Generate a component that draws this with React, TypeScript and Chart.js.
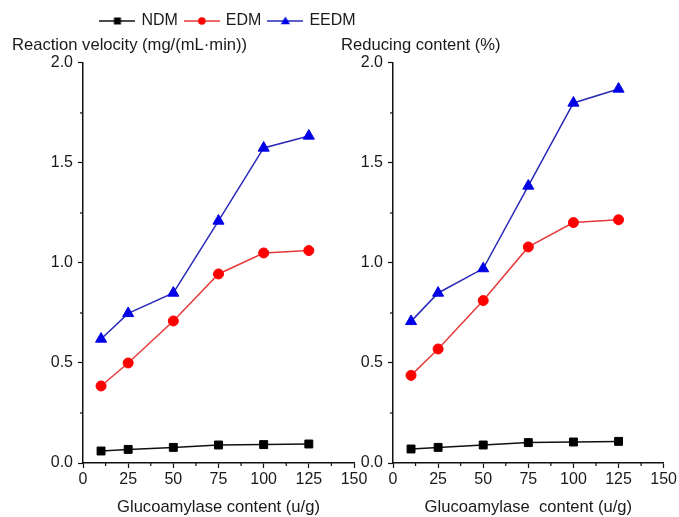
import React, { useEffect, useRef } from "react";
import { Chart, registerables } from "chart.js";

Chart.register(...registerables);

// ---- data ----
const glucoamylase = [10, 25, 50, 75, 100, 125];
const velocityNDM = [0.06, 0.068, 0.078, 0.09, 0.092, 0.095];
const velocityEDM = [0.385, 0.5, 0.71, 0.945, 1.05, 1.062];
const velocityEEDM = [0.62, 0.748, 0.85, 1.21, 1.575, 1.635];
const reducingNDM = [0.07, 0.078, 0.09, 0.102, 0.105, 0.108];
const reducingEDM = [0.438, 0.57, 0.812, 1.08, 1.202, 1.216];
const reducingEEDM = [0.708, 0.85, 0.972, 1.385, 1.8, 1.87];
const seriesNames = ["NDM", "EDM", "EEDM"];
const xMinorTicks = [12.5, 37.5, 62.5, 87.5, 112.5, 137.5];
const yMinorTicks = [0.25, 0.75, 1.25, 1.75];

const COLORS = {
  NDM: { line: "#111111", point: "#000000", style: "rect", radius: 5.6 },
  EDM: { line: "#e83a3a", point: "#ff0000", style: "circle", radius: 5 },
  EEDM: { line: "#2a2ab8", point: "#0000e6", style: "triangle", radius: 6.4 },
};
const FONT = "'Liberation Sans', Arial, Helvetica, sans-serif";
const TEXT = "#1a1a1a";

const minorTicksPlugin = {
  id: "minorTicks",
  afterDraw(chart: any) {
    const { ctx } = chart;
    const x = chart.scales.x;
    const y = chart.scales.y;
    ctx.save();
    ctx.strokeStyle = "#111";
    ctx.lineWidth = 1.2;
    xMinorTicks.forEach((v) => {
      const px = x.getPixelForValue(v);
      ctx.beginPath();
      ctx.moveTo(px, y.bottom);
      ctx.lineTo(px, y.bottom + 3);
      ctx.stroke();
    });
    yMinorTicks.forEach((v) => {
      const py = y.getPixelForValue(v);
      ctx.beginPath();
      ctx.moveTo(x.left, py);
      ctx.lineTo(x.left - 3, py);
      ctx.stroke();
    });
    ctx.restore();
  },
};

function makeDataset(name: string, values: number[]) {
  const c = (COLORS as any)[name];
  return {
    label: name,
    data: glucoamylase.map((x, i) => ({ x, y: values[i] })),
    showLine: true,
    borderColor: c.line,
    borderWidth: 1.5,
    backgroundColor: c.point,
    pointBackgroundColor: c.point,
    pointBorderColor: c.point,
    pointBorderWidth: 1,
    pointStyle: c.style,
    pointRadius: c.radius,
    tension: 0,
  };
}

function panelConfig(
  title: string,
  xTitle: string,
  values: number[][],
  padLeft: number,
  padRight: number,
  yWidth: number
): any {
  return {
    type: "scatter",
    data: {
      datasets: seriesNames.map((n, i) => makeDataset(n, values[i])),
    },
    plugins: [minorTicksPlugin],
    options: {
      animation: false,
      responsive: false,
      devicePixelRatio: 1,
      layout: { padding: { left: padLeft, right: padRight, top: 0, bottom: 0 } },
      plugins: {
        legend: { display: false },
        tooltip: { enabled: false },
        title: {
          display: true,
          text: title,
          align: "start",
          color: TEXT,
          font: { family: FONT, size: 16.6, weight: "normal", lineHeight: 1.2 },
          padding: { top: 35, bottom: 8 },
        },
      },
      scales: {
        x: {
          type: "linear",
          min: 0,
          max: 150,
          afterFit: (s: any) => {
            s.height = 54;
          },
          ticks: {
            stepSize: 25,
            color: TEXT,
            padding: 2,
            font: { family: FONT, size: 16 },
            maxRotation: 0,
          },
          grid: {
            display: true,
            drawOnChartArea: false,
            drawTicks: true,
            tickLength: 5,
            tickColor: "#111",
            tickWidth: 1.2,
          },
          border: { display: true, color: "#111", width: 1.5 },
          title: {
            display: true,
            text: xTitle,
            color: TEXT,
            font: { family: FONT, size: 16.6, lineHeight: 1.2 },
            padding: { top: 0, bottom: 0 },
          },
        },
        y: {
          type: "linear",
          min: 0,
          max: 2,
          afterFit: (s: any) => {
            s.width = yWidth;
          },
          ticks: {
            stepSize: 0.5,
            color: TEXT,
            padding: 5,
            font: { family: FONT, size: 16 },
            callback: (v: any) => Number(v).toFixed(1),
          },
          grid: {
            display: true,
            drawOnChartArea: false,
            drawTicks: true,
            tickLength: 5,
            tickColor: "#111",
            tickWidth: 1.2,
          },
          border: { display: true, color: "#111", width: 1.5 },
        },
      },
    },
  };
}

function legendImage(name: string): HTMLCanvasElement {
  const c = (COLORS as any)[name];
  const cv = document.createElement("canvas");
  cv.width = 36;
  cv.height = 12;
  const ctx = cv.getContext("2d")!;
  ctx.strokeStyle = c.line;
  ctx.lineWidth = 1.6;
  ctx.beginPath();
  ctx.moveTo(0, 6);
  ctx.lineTo(36, 6);
  ctx.stroke();
  ctx.fillStyle = c.point;
  ctx.beginPath();
  if (c.style === "rect") {
    ctx.rect(14.5, 2.5, 7, 7);
  } else if (c.style === "circle") {
    ctx.arc(18, 6, 3.8, 0, Math.PI * 2);
  } else {
    ctx.moveTo(18, 1.5);
    ctx.lineTo(22.6, 9.3);
    ctx.lineTo(13.4, 9.3);
    ctx.closePath();
  }
  ctx.fill();
  return cv;
}

function legendConfig(): any {
  const imgs = seriesNames.map(legendImage);
  return {
    type: "scatter",
    data: {
      datasets: seriesNames.map((n) => ({ label: n, data: [] })),
    },
    options: {
      animation: false,
      responsive: false,
      devicePixelRatio: 1,
      layout: { padding: { left: 0, right: 222, top: 5, bottom: 0 } },
      scales: { x: { display: false }, y: { display: false } },
      plugins: {
        tooltip: { enabled: false },
        title: { display: false },
        legend: {
          display: true,
          position: "top",
          align: "center",
          labels: {
            usePointStyle: true,
            pointStyleWidth: 32,
            boxHeight: 12,
            padding: 8,
            color: TEXT,
            font: { family: FONT, size: 16 },
            generateLabels: () =>
              seriesNames.map((n, i) => ({
                text: n,
                pointStyle: imgs[i],
                datasetIndex: i,
                hidden: false,
                lineWidth: 0,
                strokeStyle: "rgba(0,0,0,0)",
                fillStyle: "rgba(0,0,0,0)",
                fontColor: TEXT,
              })),
          },
        },
      },
    },
  };
}

export default function App() {
  const leftRef = useRef<HTMLCanvasElement>(null);
  const rightRef = useRef<HTMLCanvasElement>(null);
  const legendRef = useRef<HTMLCanvasElement>(null);

  useEffect(() => {
    const charts: Chart[] = [];
    if (leftRef.current) {
      charts.push(
        new Chart(
          leftRef.current,
          panelConfig(
            "Reaction velocity (mg/(mL\u00B7min))",
            "Glucoamylase content (u/g)",
            [velocityNDM, velocityEDM, velocityEEDM],
            12,
            18,
            71
          )
        )
      );
    }
    if (rightRef.current) {
      charts.push(
        new Chart(
          rightRef.current,
          panelConfig(
            "Reducing content (%)",
            "Glucoamylase  content (u/g)",
            [reducingNDM, reducingEDM, reducingEEDM],
            31,
            15,
            52
          )
        )
      );
    }
    if (legendRef.current) {
      charts.push(new Chart(legendRef.current, legendConfig()));
    }
    return () => charts.forEach((c) => c.destroy());
  }, []);

  return (
    <div
      style={{
        position: "fixed",
        left: 0,
        top: 0,
        width: 679,
        height: 517,
        background: "#ffffff",
        overflow: "hidden",
      }}
    >
      <canvas
        ref={leftRef}
        width={372}
        height={517}
        style={{ position: "absolute", left: 0, top: 0, width: 372, height: 517 }}
      />
      <canvas
        ref={rightRef}
        width={369}
        height={517}
        style={{ position: "absolute", left: 310, top: 0, width: 369, height: 517 }}
      />
      <canvas
        ref={legendRef}
        width={679}
        height={100}
        style={{ position: "absolute", left: 0, top: 0, width: 679, height: 100 }}
      />
    </div>
  );
}
